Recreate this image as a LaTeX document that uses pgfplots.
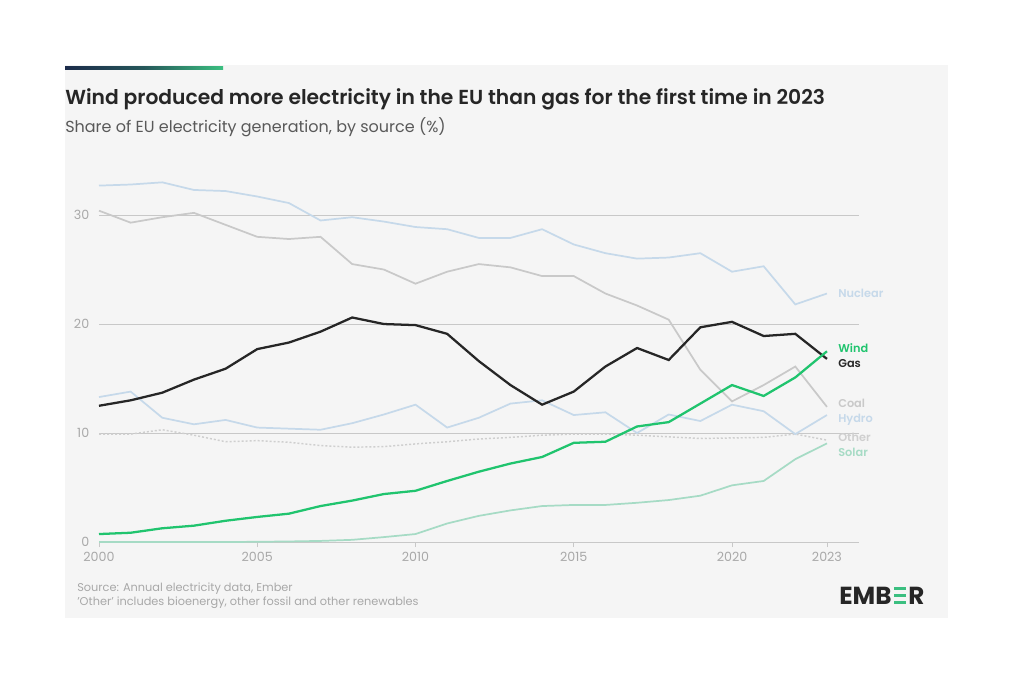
\documentclass[border=0pt]{standalone}
\usepackage{pgfplots}
\usepackage{pgfplotstable}
\usepackage{fontspec}
\pgfplotsset{compat=1.18}
\setmainfont{Poppins}
\newfontfamily\semib{Poppins SemiBold}

\definecolor{panel}{HTML}{F5F5F5}
\definecolor{gridc}{HTML}{C8C8C8}
\definecolor{tickc}{HTML}{A8A8A8}
\definecolor{nuclearc}{HTML}{C6D9EA}
\definecolor{coalc}{HTML}{C9C9C9}
\definecolor{gasc}{HTML}{262626}
\definecolor{windc}{HTML}{20C46E}
\definecolor{solarc}{HTML}{A6DBC5}
\definecolor{otherc}{HTML}{CFCFCF}
\definecolor{navy}{HTML}{1C2B4A}
\definecolor{emberg}{HTML}{3BBF80}

\pgfplotstableread{
year nuclear coal gas wind hydro solar other
2000 32.7 30.4 12.5 0.73 13.3 0.00 9.9
2001 32.8 29.3 13.0 0.85 13.8 0.00 9.9
2002 33.0 29.8 13.7 1.26 11.4 0.00 10.3
2003 32.3 30.2 14.9 1.50 10.8 0.00 9.8
2004 32.2 29.1 15.9 1.95 11.2 0.00 9.2
2005 31.7 28.0 17.7 2.30 10.5 0.02 9.3
2006 31.1 27.8 18.3 2.60 10.4 0.05 9.15
2007 29.5 28.0 19.3 3.30 10.3 0.10 8.85
2008 29.8 25.5 20.6 3.80 10.9 0.20 8.7
2009 29.4 25.0 20.0 4.40 11.7 0.45 8.75
2010 28.9 23.7 19.9 4.70 12.6 0.73 9.0
2011 28.7 24.8 19.1 5.60 10.5 1.70 9.2
2012 27.9 25.5 16.6 6.45 11.4 2.40 9.45
2013 27.9 25.2 14.4 7.20 12.7 2.90 9.6
2014 28.7 24.4 12.6 7.80 13.0 3.30 9.8
2015 27.3 24.4 13.8 9.10 11.65 3.40 9.9
2016 26.5 22.8 16.1 9.20 11.9 3.40 9.9
2017 26.0 21.7 17.8 10.6 10.0 3.60 9.8
2018 26.1 20.4 16.7 11.0 11.7 3.85 9.65
2019 26.5 15.8 19.7 12.7 11.1 4.25 9.5
2020 24.8 12.9 20.2 14.4 12.6 5.20 9.55
2021 25.3 14.4 18.9 13.4 12.0 5.60 9.6
2022 21.8 16.1 19.1 15.1 9.9 7.60 9.9
2023 22.8 12.4 16.8 17.5 11.65 9.05 9.35
}\datatable

\begin{document}
\begin{tikzpicture}
% frame in pixel units, y downwards
\begin{scope}[x=0.75pt,y=-0.75pt]
  \fill[white] (0,0) rectangle (1024,683);
  \fill[panel] (65,65) rectangle (948,618);
  \shade[left color=navy, right color=emberg, middle color=navy!70!emberg] (65,66) rectangle (223,69);
  \node[anchor=base west, inner sep=0, text=gasc, font=\semib\fontsize{15.2}{17}\selectfont] at (65,104)
    {Wind produced more electricity in the EU than gas for the first time in 2023};
  \node[anchor=base west, inner sep=0, text=black!65, font=\fontsize{12}{14}\selectfont] at (65,132)
    {Share of EU electricity generation, by source (\%)};
  \node[anchor=base west, inner sep=0, text=tickc, font=\fontsize{8.5}{10}\selectfont] at (77,591)
    {Source: Annual electricity data, Ember};
  \node[anchor=base west, inner sep=0, text=tickc, font=\fontsize{8.5}{10}\selectfont] at (77,605)
    {'Other' includes bioenergy, other fossil and other renewables};
  \node[anchor=base west, inner sep=0, text=gasc, font=\bfseries\fontsize{18.5}{20}\selectfont] (emb) at (839,604) {EMB};
  \fill[emberg] ([xshift=1.4pt]emb.base east) rectangle ++(9pt,2.5pt);
  \fill[emberg] ([xshift=1.4pt,yshift=5.1pt]emb.base east) rectangle ++(9pt,2.5pt);
  \fill[emberg] ([xshift=1.4pt,yshift=10.2pt]emb.base east) rectangle ++(9pt,2.5pt);
  \node[anchor=base west, inner sep=0, text=gasc, font=\bfseries\fontsize{18.5}{20}\selectfont] at ([xshift=12.3pt]emb.base east) {R};
\end{scope}

\begin{axis}[
    at={(74.25pt,-406.5pt)}, anchor=south west,
    scale only axis,
    width=569.7pt, height=286.1pt,
    xmin=2000, xmax=2024,
    ymin=0, ymax=35,
    xtick={2000,2005,2010,2015,2020,2023},
    ytick={0,10,20,30},
    axis x line=bottom, axis y line=left,
    axis line style={-, draw=gridc, line width=0.6pt},
    y axis line style={draw=none},
    ytick style={draw=none},
    xtick style={draw=gridc, line width=0.6pt},
    tick align=outside,
    major tick length=3.8pt,
    ymajorgrids,
    grid style={gridc, line width=0.6pt},
    /pgf/number format/assume math mode=true,
    x tick label style={/pgf/number format/1000 sep={}},
    tick label style={font=\fontsize{9.5}{11}\selectfont, text=tickc},
    clip=false,
]
\addplot[otherc, line width=1.1pt, dash pattern=on 1.5pt off 1.5pt] table[x=year, y=other] {\datatable};
\addplot[solarc, line width=1.3pt] table[x=year, y=solar] {\datatable};
\addplot[nuclearc, line width=1.3pt] table[x=year, y=hydro] {\datatable};
\addplot[coalc, line width=1.3pt] table[x=year, y=coal] {\datatable};
\addplot[nuclearc, line width=1.3pt] table[x=year, y=nuclear] {\datatable};
\addplot[gasc, line width=1.7pt] table[x=year, y=gas] {\datatable};
\addplot[windc, line width=1.7pt] table[x=year, y=wind] {\datatable};

\node[anchor=west, inner sep=0, text=nuclearc, font=\semib\fontsize{8.5}{10}\selectfont] at (axis cs:2023.35,22.84) {Nuclear};
\node[anchor=west, inner sep=0, text=windc, font=\semib\fontsize{8.5}{10}\selectfont] at (axis cs:2023.35,17.8) {Wind};
\node[anchor=west, inner sep=0, text=gasc, font=\semib\fontsize{8.5}{10}\selectfont] at (axis cs:2023.35,16.4) {Gas};
\node[anchor=west, inner sep=0, text=coalc, font=\semib\fontsize{8.5}{10}\selectfont] at (axis cs:2023.35,12.75) {Coal};
\node[anchor=west, inner sep=0, text=nuclearc, font=\semib\fontsize{8.5}{10}\selectfont] at (axis cs:2023.35,11.2) {Hydro};
\node[anchor=west, inner sep=0, text=otherc, font=\semib\fontsize{8.5}{10}\selectfont] at (axis cs:2023.35,9.6) {Other};
\node[anchor=west, inner sep=0, text=solarc, font=\semib\fontsize{8.5}{10}\selectfont] at (axis cs:2023.35,8.25) {Solar};
\end{axis}
\end{tikzpicture}
\end{document}
